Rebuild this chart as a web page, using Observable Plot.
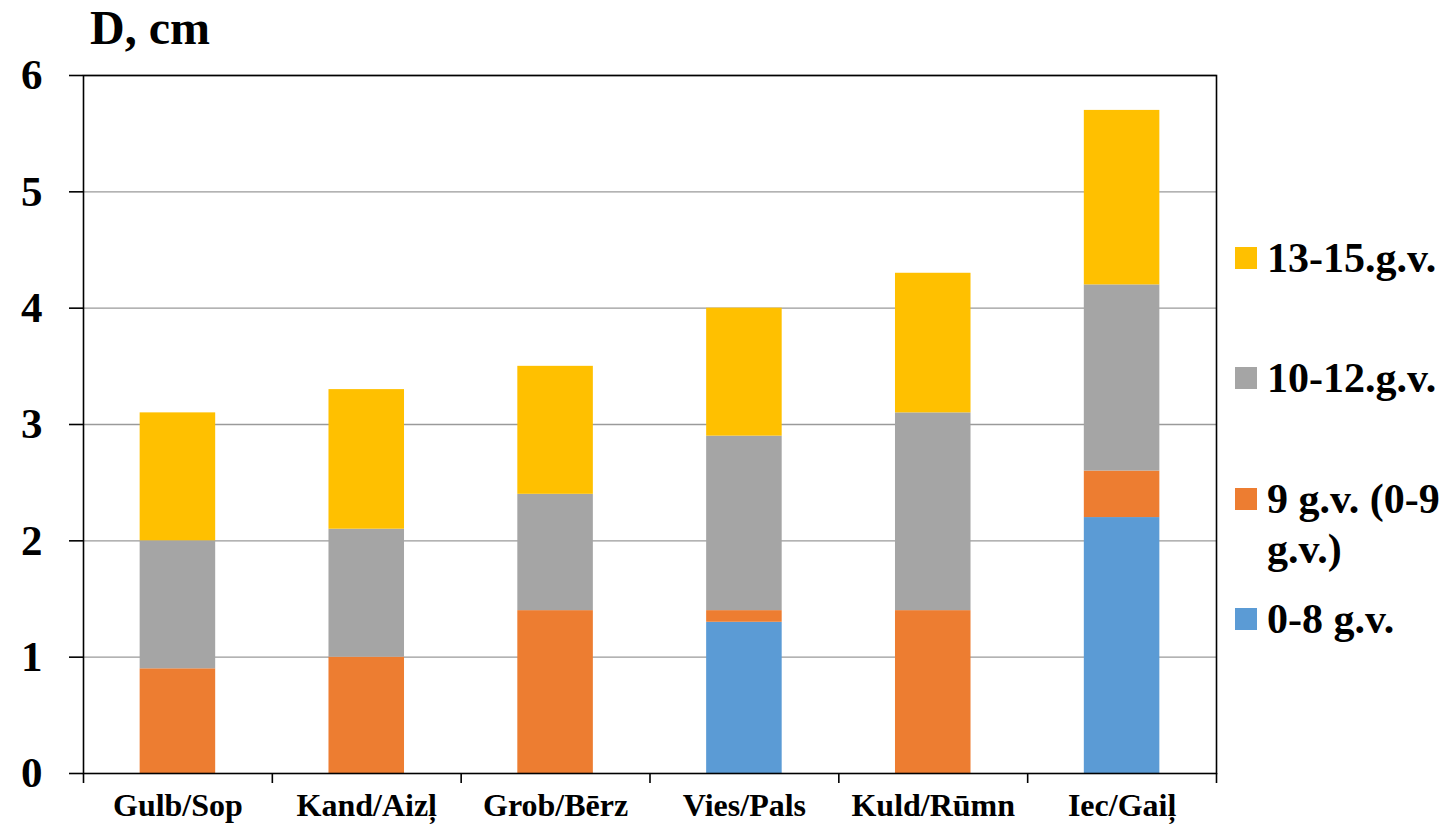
<!DOCTYPE html>
<html>
<head>
<meta charset="utf-8">
<script src="https://cdn.jsdelivr.net/npm/d3@7"></script>
<script src="https://cdn.jsdelivr.net/npm/@observablehq/plot@0.6"></script>
<style>
  html, body { margin: 0; padding: 0; background: #fff; }
  #wrap { position: relative; width: 1450px; height: 832px; font-family: "Liberation Serif", "Times New Roman", serif; font-weight: bold; }
  #title { position: absolute; left: 90px; top: 0px; font-size: 48px; line-height: 56px; color: #000; }
  #legend { position: absolute; left: 1235px; top: 0; width: 215px; color: #000; font-size: 42px; }
  .item { position: absolute; left: 0; display: flex; align-items: flex-start; white-space: nowrap; }
  .sw { width: 22px; height: 22px; margin-top: 14px; margin-right: 10px; flex: none; }
  .lab { line-height: 50px; }
</style>
</head>
<body>
<div id="wrap">
  <div id="chart"></div>
  <div id="title">D, cm</div>
  <div id="legend"></div>
</div>
<script>
const categories = ["Gulb/Sop", "Kand/Aizļ", "Grob/Bērz", "Vies/Pals", "Kuld/Rūmn", "Iec/Gaiļ"];
const seriesNames = ["0-8 g.v.", "9 g.v. (0-9 g.v.)", "10-12.g.v.", "13-15.g.v."];
const seriesColors = ["#5B9BD5", "#ED7D31", "#A5A5A5", "#FFC000"];
const s0_8 = [0, 0, 0, 1.3, 0, 2.2];
const s9 = [0.9, 1.0, 1.4, 0.1, 1.4, 0.4];
const s10_12 = [1.1, 1.1, 1.0, 1.5, 1.7, 1.6];
const s13_15 = [1.1, 1.2, 1.1, 1.1, 1.2, 1.5];
const yTicks = [0, 1, 2, 3, 4, 5, 6];

const seriesValues = [s0_8, s9, s10_12, s13_15];
const rows = [];
categories.forEach((c, i) => {
  let acc = 0;
  seriesValues.forEach((vals, s) => {
    const v = vals[i];
    if (v > 0) rows.push({i, cat: c, series: seriesNames[s], y1: acc, y2: acc + v});
    acc += v;
  });
});
const catIdx = categories.map((c, i) => i);
const FONT = "'Liberation Serif', 'Times New Roman', serif";

const chart = Plot.plot({
  width: 1450,
  height: 832,
  marginLeft: 83,
  marginRight: 234,
  marginTop: 75,
  marginBottom: 59,
  style: {fontFamily: FONT, fontWeight: "bold", color: "#000", background: "#fff"},
  x: {domain: [0, categories.length]},
  y: {domain: [0, 6]},
  color: {domain: seriesNames, range: seriesColors},
  marks: [
    Plot.gridY(yTicks.slice(1), {stroke: "#9a9a9a", strokeOpacity: 1, strokeWidth: 1.3}),
    Plot.rect(rows, {x1: d => d.i + 0.3, x2: d => d.i + 0.7, y1: "y1", y2: "y2", fill: "series"}),
    Plot.frame({stroke: "#000", strokeWidth: 1.6}),
    Plot.axisY({ticks: yTicks, tickSize: 14, tickPadding: 27, fontSize: 43, stroke: "#000", strokeWidth: 1.6, label: null, tickFormat: d => String(d)}),
    Plot.axisX({ticks: d3.range(categories.length + 1), tickSize: 10, tickFormat: () => "", stroke: "#000", strokeWidth: 1.6, label: null}),
    Plot.axisX({ticks: catIdx.map(i => i + 0.5), tickSize: 0, tickPadding: 20, fontSize: 32, tickFormat: d => categories[Math.floor(d)], label: null})
  ]
});
chart.querySelectorAll("text").forEach(t => { t.style.fontFamily = FONT; t.style.fontWeight = "bold"; });
document.getElementById("chart").appendChild(chart);

const legend = document.getElementById("legend");
const legendText = {"9 g.v. (0-9 g.v.)": "9 g.v. (0-9<br>g.v.)"};
const tops = [233, 353, 474, 594];
[3, 2, 1, 0].forEach((s, k) => {
  const item = document.createElement("div");
  item.className = "item";
  item.style.top = tops[k] + "px";
  item.innerHTML = `<div class="sw" style="background:${seriesColors[s]}"></div><div class="lab">${legendText[seriesNames[s]] || seriesNames[s]}</div>`;
  legend.appendChild(item);
});
</script>
</body>
</html>
